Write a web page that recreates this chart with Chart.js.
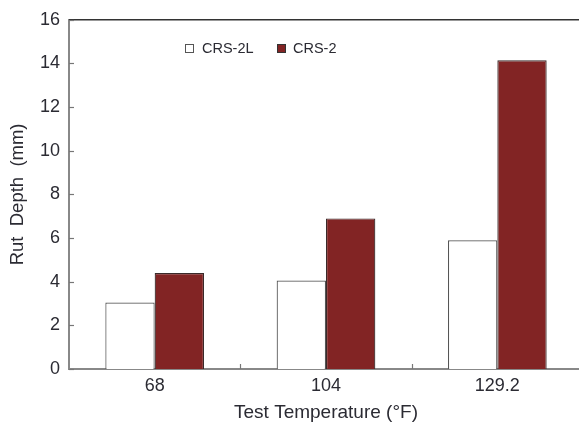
<!DOCTYPE html>
<html>
<head>
<meta charset="utf-8">
<script src="https://cdn.jsdelivr.net/npm/chart.js@4"></script>
<style>
html,body{margin:0;padding:0;overflow:hidden;background:#fff;}
#wrap{width:583px;height:429px;}
</style>
</head>
<body>
<div id="wrap"><canvas id="c" width="583" height="429"></canvas></div>
<script>
const categories = ['68', '104', '129.2'];
const seriesNames = ['CRS-2L', 'CRS-2'];
const crs2L = [3.05, 4.05, 5.9];
const crs2 = [4.4, 6.9, 14.15];
const yTicks = [0, 2, 4, 6, 8, 10, 12, 14, 16];
const xTitle = 'Test Temperature (\u00B0F)';
const yTitle = 'Rut  Depth  (mm)';

const TEXT = '#2b2b33';
const FONT = '"Liberation Sans", Arial, Helvetica, sans-serif';

const decor = {
  id: 'decor',
  afterDraw(chart) {
    const ctx = chart.ctx;
    const ca = chart.chartArea;
    const ys = chart.scales.y, xs = chart.scales.x;
    ctx.save();
    // top border
    ctx.strokeStyle = '#333';
    ctx.lineWidth = 1.5;
    ctx.beginPath();
    ctx.moveTo(ca.left, ys.getPixelForValue(16));
    ctx.lineTo(ca.right, ys.getPixelForValue(16));
    ctx.stroke();
    // inward y ticks
    ctx.strokeStyle = '#777';
    ctx.lineWidth = 1.2;
    yTicks.forEach(v => {
      const p = Math.round(ys.getPixelForValue(v)) + 0.5;
      ctx.beginPath();
      ctx.moveTo(ca.left, p);
      ctx.lineTo(ca.left + 5, p);
      ctx.stroke();
    });
    // x minor ticks at category boundaries
    for (let i = 0; i < categories.length - 1; i++) {
      const p = Math.round((xs.getPixelForValue(i) + xs.getPixelForValue(i + 1)) / 2) + 0.5;
      ctx.beginPath();
      ctx.moveTo(p, ca.bottom);
      ctx.lineTo(p, ca.bottom - 5);
      ctx.stroke();
    }
    // legend
    ctx.font = '14.5px ' + FONT;
    ctx.textBaseline = 'middle';
    const legendPos = [{x: 185, tx: 202}, {x: 277, tx: 293}];
    chart.data.datasets.forEach((ds, i) => {
      const lp = legendPos[i];
      ctx.fillStyle = ds.backgroundColor;
      ctx.fillRect(lp.x + 0.5, 44.5, 8, 8);
      ctx.strokeStyle = i === 0 ? '#555' : '#333';
      ctx.lineWidth = 1;
      ctx.strokeRect(lp.x + 0.5, 44.5, 8, 8);
      ctx.fillStyle = TEXT;
      ctx.fillText(ds.label, lp.tx, 49);
    });
    ctx.restore();
  }
};

new Chart(document.getElementById('c'), {
  type: 'bar',
  data: {
    labels: categories,
    datasets: [
      { label: seriesNames[0], data: crs2L, backgroundColor: '#ffffff', borderColor: '#555555', borderWidth: 1.2 },
      { label: seriesNames[1], data: crs2, backgroundColor: '#822424', borderColor: '#3a2a2a', borderWidth: 1.2 }
    ]
  },
  options: {
    responsive: false,
    animation: false,
    events: [],
    layout: { padding: { top: 17, left: 0, right: 0, bottom: 0 } },
    plugins: { legend: { display: false }, tooltip: { enabled: false } },
    datasets: { bar: { categoryPercentage: 0.576, barPercentage: 1.0 } },
    scales: {
      x: {
        grid: { display: false, drawTicks: false },
        border: { display: true, color: '#888', width: 2 },
        ticks: { color: TEXT, font: { family: FONT, size: 18 }, padding: 6 },
        title: { display: true, text: xTitle, color: TEXT, font: { family: FONT, size: 19 }, padding: { top: 0, bottom: 5 } },
        afterFit(s) { s.height = 60; }
      },
      y: {
        min: 0, max: 16,
        afterBuildTicks(s) { s.ticks = yTicks.map(v => ({ value: v })); },
        grid: { display: false, drawTicks: false },
        border: { display: true, color: '#888', width: 2 },
        ticks: { color: TEXT, font: { family: FONT, size: 18 }, padding: 9 },
        title: { display: true, text: yTitle, color: TEXT, font: { family: FONT, size: 18.5 }, padding: { top: 7, bottom: 0 } },
        afterFit(s) { s.width = 69; }
      }
    }
  },
  plugins: [decor]
});
</script>
</body>
</html>
